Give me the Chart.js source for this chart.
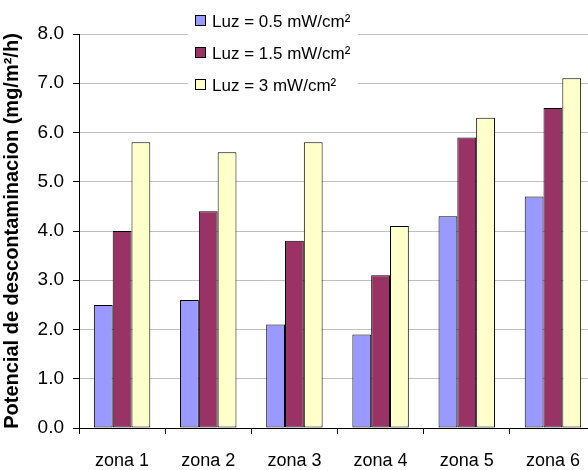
<!DOCTYPE html>
<html>
<head>
<meta charset="utf-8">
<script src="https://cdn.jsdelivr.net/npm/chart.js@4/dist/chart.umd.min.js"></script>
<style>
  html, body { margin: 0; padding: 0; overflow: hidden; background: #fff; }
  #wrap { width: 600px; height: 470px; }
</style>
</head>
<body>
<div id="wrap"><canvas id="myChart" width="600" height="470"></canvas></div>
<script>
const zonas = ['zona 1', 'zona 2', 'zona 3', 'zona 4', 'zona 5', 'zona 6'];
const luz05 = [2.5, 2.6, 2.1, 1.9, 4.3, 4.7];
const luz15 = [4.0, 4.4, 3.8, 3.1, 5.9, 6.5];
const luz3 = [5.8, 5.6, 5.8, 4.1, 6.3, 7.1];
const seriesLabels = ['Luz = 0.5 mW/cm²', 'Luz = 1.5 mW/cm²', 'Luz = 3 mW/cm²'];
const yTitle = 'Potencial de descontaminacion (mg/m²/h)';

const FONT = '"Liberation Sans", Arial, sans-serif';

// legend drawn as a white box over the plot, like the original
const boxLegend = {
  id: 'boxLegend',
  afterDraw(chart) {
    const ctx = chart.ctx;
    ctx.save();
    ctx.fillStyle = '#fff';
    ctx.fillRect(188, 0, 170, 98);
    ctx.font = '17px ' + FONT;
    ctx.textBaseline = 'middle';
    chart.data.datasets.forEach((ds, i) => {
      const y = 21 + i * 32;
      ctx.fillStyle = ds.backgroundColor;
      ctx.fillRect(195.5, y - 5.5, 10, 10);
      ctx.strokeStyle = '#000';
      ctx.lineWidth = 1;
      ctx.strokeRect(195.5, y - 5.5, 10, 10);
      ctx.fillStyle = '#000';
      ctx.fillText(ds.label, 212, y + 1);
    });
    ctx.restore();
  }
};

const $ctx = document.getElementById('myChart');
const myChart = new Chart($ctx, {
  type: 'bar',
  data: {
    labels: zonas,
    datasets: [
      { label: seriesLabels[0], data: luz05, backgroundColor: '#9999FF', borderColor: '#000', borderWidth: 1 },
      { label: seriesLabels[1], data: luz15, backgroundColor: '#993366', borderColor: '#000', borderWidth: 1 },
      { label: seriesLabels[2], data: luz3, backgroundColor: '#FFFFCC', borderColor: '#000', borderWidth: 1 },
    ],
  },
  options: {
    responsive: false,
    animation: false,
    layout: { padding: { top: 34, right: 4, left: 0, bottom: 0 } },
    datasets: {
      bar: { categoryPercentage: 0.655, barPercentage: 1.0, borderSkipped: false },
    },
    plugins: {
      legend: { display: false },
      tooltip: { enabled: false },
    },
    scales: {
      x: {
        grid: { drawOnChartArea: false, drawTicks: true, tickLength: 6, tickColor: '#000', offset: true },
        border: { color: '#000', width: 1 },
        ticks: { color: '#000', font: { family: FONT, size: 18 }, padding: 16, maxRotation: 0 },
        afterFit(scale) { scale.height = 42; },
      },
      y: {
        min: 0,
        max: 8,
        grid: { color: '#c0c0c0', tickColor: '#000', tickLength: 6 },
        border: { color: '#000', width: 1 },
        ticks: {
          stepSize: 1,
          color: '#000',
          padding: 9,
          font: { family: FONT, size: 19 },
          callback: (v) => v.toFixed(1),
        },
        title: {
          display: true,
          text: yTitle,
          color: '#000',
          font: { family: FONT, size: 20, weight: 'bold' },
          padding: { top: 0, bottom: 0 },
        },
        afterFit(scale) { scale.width = 79; },
      },
    },
  },
  plugins: [boxLegend],
});
</script>
</body>
</html>
